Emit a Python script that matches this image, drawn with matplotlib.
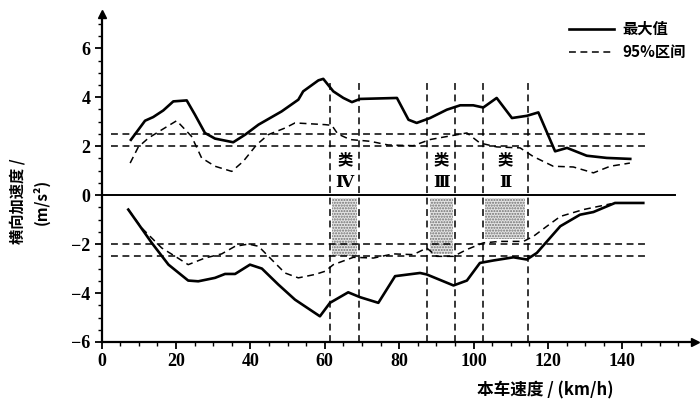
import matplotlib
matplotlib.use("Agg")
import matplotlib.pyplot as plt
from matplotlib.ticker import MultipleLocator

# --------------------------------------------------------------------------- #
# data (speed in km/h, lateral acceleration in m/s^2)
# --------------------------------------------------------------------------- #
speed_max_up = [7.9, 11.7, 13.9, 16.6, 19.3, 22.9, 25.1, 27.8, 30.5, 35.4, 38.6,
                42.2, 48.4, 52.9, 54.2, 58.3, 59.6, 62.3, 65.0, 67.3, 69.5, 79.4,
                82.5, 84.7, 88.3, 92.8, 96.4, 99.9, 102.6, 106.2, 110.3, 114.3,
                117.4, 121.9, 125.1, 130.4, 135.8, 142.1]
max_up = [2.26, 3.04, 3.19, 3.46, 3.83, 3.87, 3.29, 2.54, 2.31, 2.16, 2.47,
          2.88, 3.42, 3.90, 4.24, 4.69, 4.75, 4.24, 3.97, 3.80, 3.93, 3.97,
          3.08, 2.95, 3.15, 3.49, 3.67, 3.67, 3.58, 3.97, 3.15, 3.24,
          3.38, 1.79, 1.93, 1.61, 1.52, 1.48]

speed_p95_up = [7.7, 9.9, 12.6, 16.2, 20.2, 24.2, 26.9, 30.5, 35.0, 38.1, 41.7,
                44.8, 49.3, 52.0, 60.1, 61.9, 63.5, 66.8, 72.2, 77.0, 83.8, 88.3,
                91.9, 98.2, 101.7, 106.2, 112.5, 116.0, 121.4, 126.8, 132.2,
                136.7, 142.0]
p95_up = [1.31, 1.97, 2.33, 2.67, 3.04, 2.40, 1.52, 1.18, 0.97, 1.38, 2.06,
          2.47, 2.74, 2.95, 2.88, 2.85, 2.50, 2.27, 2.20, 2.05, 2.02, 2.27,
          2.37, 2.54, 2.13, 1.97, 1.93, 1.58, 1.18, 1.15, 0.91,
          1.18, 1.31]

speed_max_lo = [7.2, 13.5, 18.0, 23.3, 26.0, 30.5, 33.2, 35.9, 39.9, 43.1, 47.5,
                52.0, 58.7, 61.4, 66.3, 69.5, 74.4, 78.9, 85.6, 87.4, 94.6, 98.2,
                101.7, 105.3, 110.7, 114.3, 117.0, 123.3, 128.6, 132.2, 138.0,
                145.6]
max_lo = [-0.59, -1.95, -2.84, -3.49, -3.52, -3.38, -3.22, -3.22, -2.84, -3.00,
          -3.65, -4.27, -4.95, -4.40, -3.97, -4.17, -4.40, -3.31, -3.18, -3.24,
          -3.69, -3.49, -2.77, -2.67, -2.54, -2.63, -2.36, -1.27, -0.80, -0.69,
          -0.32, -0.32]

speed_p95_lo = [7.2, 10.8, 16.2, 19.8, 23.3, 27.8, 32.3, 35.9, 39.5, 42.2, 45.7,
                49.3, 52.9, 57.4, 60.1, 62.3, 67.7, 73.1, 78.4, 83.8, 87.4, 90.1,
                94.6, 98.2, 102.6, 107.1, 113.4, 116.1, 119.7, 123.3, 129.5,
                137.0]
p95_lo = [-0.59, -1.34, -2.16, -2.50, -2.84, -2.57, -2.40, -2.09, -2.00, -2.09,
          -2.63, -3.18, -3.38, -3.24, -3.11, -2.84, -2.54, -2.57, -2.40, -2.43,
          -2.16, -2.50, -2.50, -2.22, -1.95, -1.89, -1.89, -1.68, -1.27, -0.87,
          -0.59, -0.35]

thresholds = [2.0, 2.5, -2.0, -2.5]

class_left = [61.4, 87.6, 102.4]
class_right = [69.3, 95.0, 114.5]
class_shade_bottom = [-2.5, -2.4, -1.8]
class_names = ["Ⅳ", "Ⅲ", "Ⅱ"]

x_ticks = [0, 20, 40, 60, 80, 100, 120, 140]
x_labels = ["0", "20", "40", "60", "80", "100", "120", "140"]
y_ticks = [-6, -4, -2, 0, 2, 4, 6]
y_labels = ["\u22126", "\u22124", "\u22122", "0", "2", "4", "6"]

CJK = ["Noto Sans CJK SC", "DejaVu Sans"]
NUM = ["Liberation Serif", "DejaVu Serif"]

# --------------------------------------------------------------------------- #
# figure
# --------------------------------------------------------------------------- #
fig = plt.figure(figsize=(7.0, 4.03), dpi=100)
ax = fig.add_axes([101.5 / 700, 61 / 403, 593.5 / 700, 328 / 403])
ax.set_xlim(0, 159.5)
ax.set_ylim(-6, 7.4)

dash = (0, (4.5, 3.0))

# thresholds and zero line
for t in thresholds:
    ax.plot([2.5, 146], [t, t], color="black", lw=1.1, ls=dash)
ax.plot([0, 154], [0, 0], color="black", lw=1.4)

# class regions: vertical dashed bounds, stippled shading, labels
for xl, xr, yb, name in zip(class_left, class_right, class_shade_bottom, class_names):
    for xv in (xl, xr):
        ax.plot([xv, xv], [-6, 4.75], color="black", lw=1.1, ls=dash)
    ax.fill_between([xl + 0.6, xr - 0.6], yb, -0.1, facecolor="#e4e4e4",
                    edgecolor="#707070", hatch="......", lw=0)
    xc = 0.5 * (xl + xr)
    ax.text(xc, 1.45, "类", ha="center", va="center", fontsize=11,
            family=CJK, fontweight="bold")
    ax.text(xc, 0.5, name, ha="center", va="center", fontsize=12,
            family=NUM, fontweight="bold")

# curves
ax.plot(speed_max_up, max_up, color="black", lw=1.9, label="最大值")
ax.plot(speed_p95_up, p95_up, color="black", lw=1.1, ls=dash, label="95%区间")
ax.plot(speed_max_lo, max_lo, color="black", lw=1.9)
ax.plot(speed_p95_lo, p95_lo, color="black", lw=1.1, ls=dash)

# axes styling: only left and bottom spines, with arrow heads
for s in ("top", "right"):
    ax.spines[s].set_visible(False)
for s in ("left", "bottom"):
    ax.spines[s].set_linewidth(1.6)
ax.plot(1, 0, ">k", ms=6, transform=ax.transAxes, clip_on=False)
ax.plot(0, 1, "^k", ms=6, transform=ax.transAxes, clip_on=False)

tick_font = {"family": NUM, "weight": "bold", "size": 13}
ax.set_xticks(x_ticks, labels=x_labels, fontdict=tick_font)
ax.set_yticks(y_ticks, labels=y_labels, fontdict=tick_font)
ax.xaxis.set_minor_locator(MultipleLocator(5))
ax.yaxis.set_minor_locator(MultipleLocator(0.5))
ax.tick_params(which="major", direction="out", length=5, width=1.3, pad=3)
ax.tick_params(which="minor", direction="out", length=3, width=1.0)

ax.legend(loc="upper left", bbox_to_anchor=(0.765, 1.02), frameon=False,
          handlelength=2.9, handletextpad=0.6, labelspacing=0.45,
          prop={"family": CJK, "size": 11, "weight": "bold"})

fig.text(545 / 700, 1 - 390 / 403, "本车速度 / (km/h)", ha="center",
         va="center", fontsize=12, family=CJK, fontweight="bold")
fig.text(30 / 700, 0.5, "横向加速度 /\n(m/s²)", ha="center", va="center",
         rotation=90, fontsize=11, family=CJK, fontweight="bold",
         multialignment="center", linespacing=1.5)

fig.savefig("out.png", dpi=100)
